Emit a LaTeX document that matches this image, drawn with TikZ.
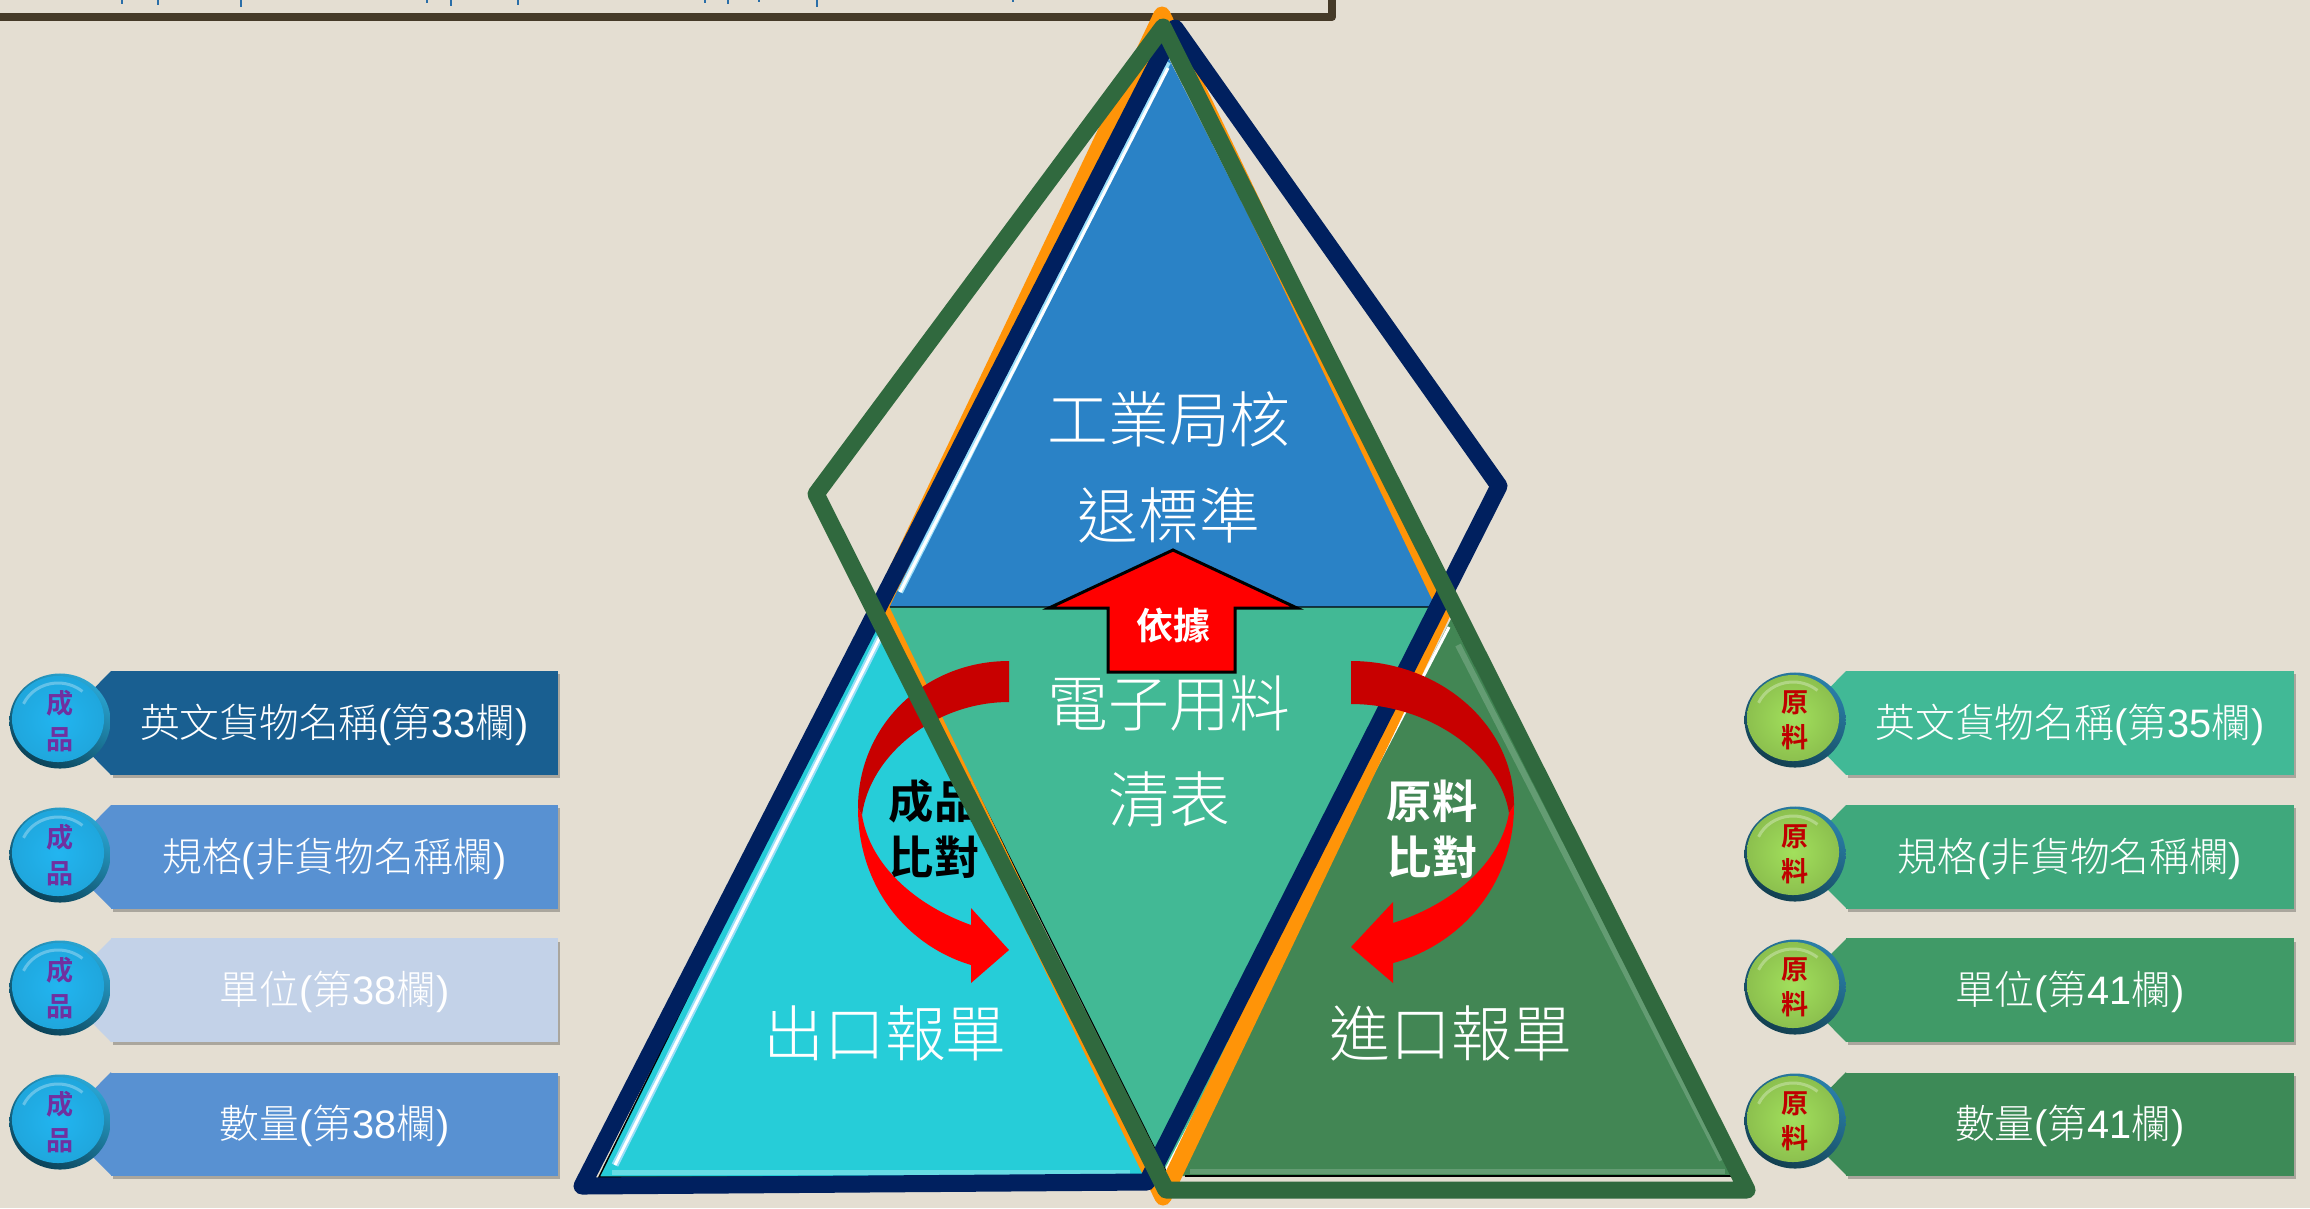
\documentclass[tikz,border=0pt]{standalone}
\usepackage{fontspec}
\usepackage{tikz}
\usetikzlibrary{shapes.geometric,shadows}
\setmainfont{Liberation Sans}
\newfontfamily\cjk[UprightFont=* Light,BoldFont=* Bold]{Noto Sans CJK TC}
\newcommand{\lat}[1]{{\rmfamily #1}}
\definecolor{paper}{HTML}{E4DED2}
\definecolor{framecol}{HTML}{453A28}
\definecolor{titleblue}{HTML}{2A6EA8}
\definecolor{topblue}{HTML}{2A82C6}
\definecolor{midteal}{HTML}{42B995}
\definecolor{leftcyan}{HTML}{26CDD8}
\definecolor{rightgreen}{HTML}{428654}
\definecolor{lineorange}{HTML}{FF9408}
\definecolor{linenavy}{HTML}{00205F}
\definecolor{linegreen}{HTML}{30693E}
\definecolor{arrowdark}{HTML}{C80000}
\definecolor{fga}{HTML}{195F91}
\definecolor{fgb}{HTML}{5891D2}
\definecolor{fgc}{HTML}{C3D2E8}
\definecolor{mta}{HTML}{41B996}
\definecolor{mtb}{HTML}{3FA87C}
\definecolor{mtc}{HTML}{409A67}
\definecolor{mtd}{HTML}{3D8A57}
\definecolor{ballsky}{HTML}{22B5F0}
\definecolor{rimskytop}{HTML}{2AA5D2}
\definecolor{rimskylow}{HTML}{0A4258}
\definecolor{balllime}{HTML}{A2E05C}
\definecolor{limeedge}{HTML}{8CC04E}
\definecolor{rimlimetop}{HTML}{2A7FA8}
\definecolor{rimlimelow}{HTML}{123F50}
\definecolor{ballpurple}{HTML}{7030A0}

\begin{document}
\begin{tikzpicture}[x=0.01cm,y=-0.01cm,
	bigtext/.style={font=\cjk\fontsize{17.3}{27.3}\selectfont,text=white,align=center,inner sep=0pt},
	cmptext/.style={font=\cjk\bfseries\fontsize{12.9}{16}\selectfont,align=center,inner sep=0pt},
	boxlabel/.style={font=\cjk\fontsize{11.3}{13}\selectfont,text=white,inner sep=0pt,minimum height=1.03cm,
		text height=9pt,text depth=0.9pt,
		drop shadow={shadow xshift=0.02cm,shadow yshift=-0.03cm,fill=black,opacity=.25}},
	fgbox/.style={boxlabel,minimum width=4.47cm},
	mtbox/.style={boxlabel,minimum width=4.48cm},
	ballnode/.style n args={4}{ellipse,minimum width=1.01cm,minimum height=0.95cm,inner sep=0pt,align=center,
		font=\cjk\bfseries\fontsize{7.7}{10}\selectfont,
		path picture={\shade[top color=#1,bottom color=#2,shading angle=-30] (path picture bounding box.south west) rectangle (path picture bounding box.north east);
			\shade[inner color=#3,outer color=#4] (path picture bounding box.center) ++(-2,-2) ellipse [x radius=0.46cm,y radius=0.43cm];
			\draw[white,opacity=.3,line width=0.03cm] (path picture bounding box.center) ++(-2,-2) ++(155:0.38cm and 0.36cm) arc [start angle=155,end angle=50,x radius=0.38cm,y radius=0.36cm];}},
	ballfg/.style={ballnode={rimskytop}{rimskylow}{ballsky}{ballsky!92!black},text=ballpurple},
	ballmt/.style={ballnode={rimlimetop}{rimlimelow}{balllime}{limeedge},text=red!75!black},
	outline/.style={line width=0.17cm,line join=round,line cap=round},
	bevel/.style={line width=0.03cm,white}]
		\useasboundingbox (0,0) rectangle (2310,1208);
		\clip (0,0) rectangle (2310,1208);
		\fill[paper] (0,0) rectangle (2310,1208);

		\draw[titleblue,line width=0.025cm] (122,0) -- (122,4)
		(158,0) -- (158,5)
		(241,0) -- (241,7)
		(427,0) -- (427,3)
		(451,0) -- (451,6)
		(518,0) -- (518,5)
		(705,0) -- (705,3)
		(728,0) -- (728,4)
		(759,0) -- (759,2)
		(817,0) -- (817,7)
		(1013,0) -- (1013,2);
		\draw[framecol,line width=0.08cm,line join=round] (-20,17) -- (1332,17) -- (1332,-20);

		\fill[leftcyan] (880,607) -- (599,1177) -- (1145,1177) -- cycle;
		\fill[rightgreen] (1451,619) -- (1171,1176) -- (1732,1176) -- cycle;
		\fill[topblue] (1168,57) -- (885,607) -- (1447,607) -- cycle;
		\fill[midteal] (885,607) -- (1447,607) -- (1167,1173) -- cycle;

		\draw[leftcyan!70!white,line width=0.05cm] (612,1172) -- (1130,1172);
		\draw[black,line width=0.015cm] (880,607) -- (599,1177) -- (1145,1177);
		\draw[cyan!40!white,line width=0.07cm] (880,637) -- (615,1165);
		\draw[bevel] (880,637) -- (615,1165);
		\draw[cyan!40!white,line width=0.06cm] (1168,62) -- (900,592);
		\draw[bevel] (1168,68) -- (900,592);
		\draw[bevel] (1449,627) -- (1165,1172);
		\draw[rightgreen!82!white,line width=0.06cm] (1458,645) -- (1722,1160);
		\draw[rightgreen!82!white,line width=0.05cm] (1190,1171) -- (1725,1171);
		\draw[black,line width=0.02cm] (1185,1176) -- (1735,1176);
		\draw[black,line width=0.012cm] (885,607) -- (1447,607)
		(885,607) -- (1167,1173);

		\path (1169,467) node[bigtext] (stdtext) {工業局核\\退標準}
		(1169,752) node[bigtext] (listtext) {電子用料\\清表}
		(885,1033) node[bigtext] (exptext) {出口報單}
		(1451,1033) node[bigtext] (imptext) {進口報單};

		\draw[lineorange,outline] (1162,15) -- (1445,607) -- (1163,1197) -- (880,607) -- cycle;
		\draw[linenavy,outline] (1175,28) -- (1499,486) -- (1147,1182) -- (582,1186) -- cycle;

		\draw[black,line width=0.03cm,fill=red,line join=miter] (1173,550) -- (1297,608) -- (1235,608) -- (1235,672) -- (1108,672) -- (1108,608) -- (1049,608) -- cycle;
		\path (1173,625) node[font=\cjk\bfseries\fontsize{10.5}{12}\selectfont,text=white,inner sep=0pt] (basistext) {依據};

		\fill[arrowdark] (1009,661) .. controls (925,661) and (858,725) .. (858,808)
		-- (862,815) .. controls (870,755) and (935,702) .. (1009,702) -- cycle;
		\fill[red] (858,808) .. controls (858,885) and (905,945) .. (971,965)
		-- (971,983) -- (1009,950) -- (971,908) -- (971,925)
		.. controls (915,905) and (870,865) .. (862,815) -- cycle;
		\fill[arrowdark] (1351,661) .. controls (1440,661) and (1514,725) .. (1514,805)
		-- (1509,813) .. controls (1500,755) and (1430,704) .. (1351,704) -- cycle;
		\fill[red] (1514,805) .. controls (1514,885) and (1460,945) .. (1393,963)
		-- (1393,983) -- (1351,947) -- (1393,902) -- (1393,923)
		.. controls (1450,905) and (1500,865) .. (1509,813) -- cycle;

		\path (934,829) node[cmptext,text=black] (fgcmp) {成品\\比對}
		(1432,829) node[cmptext,text=white] (mtcmp) {原料\\比對};

		\draw[linegreen,outline] (1163,27) -- (1747,1190) -- (1166,1190) -- (816,494) -- cycle;

		\fill[fga] (111,671) -- (60,723) -- (111,775) -- cycle;
		\fill[fgb] (111,805) -- (60,857) -- (111,908) -- cycle;
		\fill[fgc] (111,939) -- (60,990) -- (111,1042) -- cycle;
		\fill[fgb] (111,1072) -- (60,1124) -- (111,1175) -- cycle;
		\fill[mta] (1846,671) -- (1795,723) -- (1846,775) -- cycle;
		\fill[mtb] (1846,805) -- (1795,857) -- (1846,908) -- cycle;
		\fill[mtc] (1846,939) -- (1795,990) -- (1846,1042) -- cycle;
		\fill[mtd] (1846,1072) -- (1795,1124) -- (1846,1175) -- cycle;

		\path (334.5,723) node[fgbox,fill=fga] (fgname) {英文貨物名稱\lat{(}第\lat{33}欄\lat{)}}
		(334.5,857) node[fgbox,fill=fgb] (fgspec) {規格\lat{(}非貨物名稱欄\lat{)}}
		(334.5,990) node[fgbox,fill=fgc] (fgunit) {單位\lat{(}第\lat{38}欄\lat{)}}
		(334.5,1124) node[fgbox,fill=fgb] (fgqty) {數量\lat{(}第\lat{38}欄\lat{)}}
		(2070,723) node[mtbox,fill=mta] (mtname) {英文貨物名稱\lat{(}第\lat{35}欄\lat{)}}
		(2070,857) node[mtbox,fill=mtb] (mtspec) {規格\lat{(}非貨物名稱欄\lat{)}}
		(2070,990) node[mtbox,fill=mtc] (mtunit) {單位\lat{(}第\lat{41}欄\lat{)}}
		(2070,1124) node[mtbox,fill=mtd] (mtqty) {數量\lat{(}第\lat{41}欄\lat{)}};

		\path (60,721) node[ballfg] (ballfga) {成\\品}
		(60,855) node[ballfg] (ballfgb) {成\\品}
		(60,988) node[ballfg] (ballfgc) {成\\品}
		(60,1122) node[ballfg] (ballfgd) {成\\品}
		(1795,720) node[ballmt] (ballmta) {原\\料}
		(1795,854) node[ballmt] (ballmtb) {原\\料}
		(1795,987) node[ballmt] (ballmtc) {原\\料}
		(1795,1121) node[ballmt] (ballmtd) {原\\料};

	\end{tikzpicture}
\end{document}
